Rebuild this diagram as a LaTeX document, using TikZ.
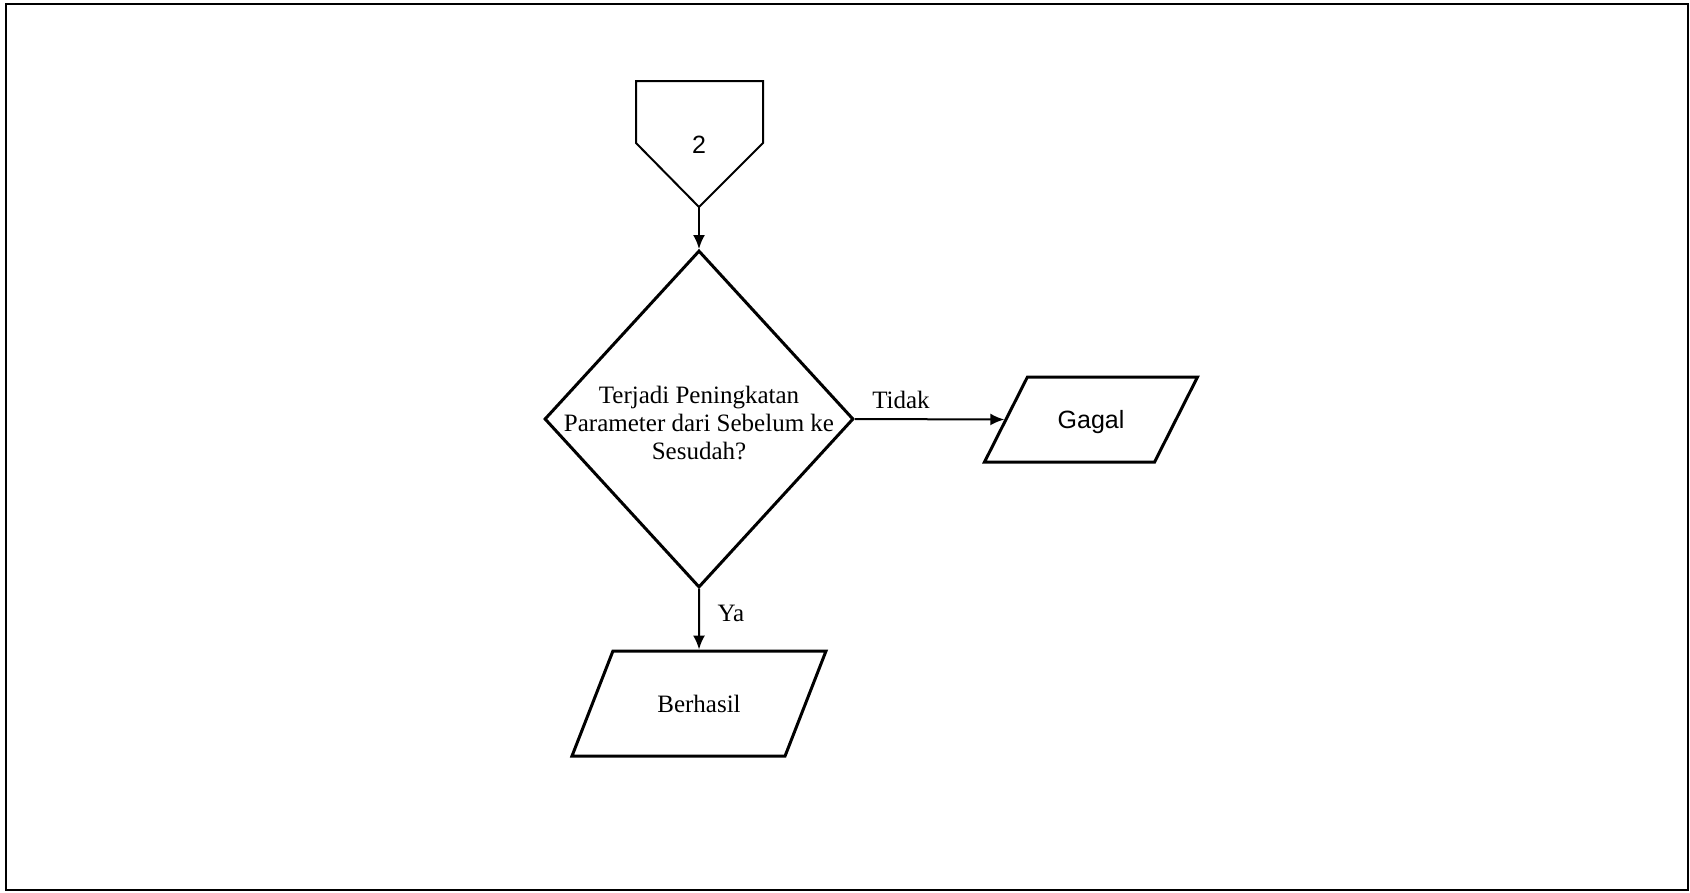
\documentclass[tikz,border=0pt]{standalone}
\usepackage{fontspec}
\setmainfont{Liberation Serif}
\setsansfont{Liberation Sans}
\usepackage{tikz}
\usetikzlibrary{shapes, arrows.meta, positioning, calc}

\begin{document}
\begin{tikzpicture}[x=1pt, y=-1pt,
  decision/.style={diamond, draw, line width=3pt, minimum width=309pt, minimum height=337pt, inner sep=0pt},
  io/.style={trapezium, draw, line width=3pt, trapezium stretches body=true, inner sep=0pt,
    font=\fontsize{25}{28}\selectfont},
  flow/.style={line width=2pt, -{Latex[length=14pt, width=12pt]}},
  txt/.style={font=\fontsize{25}{28}\selectfont, align=center, inner sep=0pt}
]
  \useasboundingbox (0,0) rectangle (1690,892);
  \draw[line width=2.5pt] (6,4) rectangle (1688,890);

  % off-page connector
  \draw[line width=2pt, line join=miter] (636,81) -- (763,81) -- (763,143) -- (699,207) -- (636,143) -- cycle;
  \node[txt, font=\fontsize{25}{28}\sffamily\selectfont] (conn) at (699,145) {2};
  \coordinate (conntip) at (699,207);

  % decision
  \node[decision] (dec) at (699,419) {};
  \node[txt] (question) at (699,423) {Terjadi Peningkatan\\Parameter dari Sebelum ke\\Sesudah?};

  % outputs
  \node[io, trapezium left angle=63.2, trapezium right angle=116.8,
    text height=51.5pt, text depth=33.5pt, minimum width=213pt] (gagal) at (1091,419.5) {\sffamily Gagal};
  \node[io, trapezium left angle=68.7, trapezium right angle=111.3,
    text height=61pt, text depth=44pt, minimum width=254pt] (berhasil) at (699,703.5) {Berhasil};

  % arrows
  \draw[flow] (conntip) -- (dec.north);
  \draw[flow] (dec.east) -- (gagal.west);
  \draw[flow] (dec.south) -- (berhasil.north);
  \node[txt, anchor=base] (tidak) at (901,408) {Tidak};
  \node[txt, anchor=base] (ya) at (731,621) {Ya};
\end{tikzpicture}
\end{document}
